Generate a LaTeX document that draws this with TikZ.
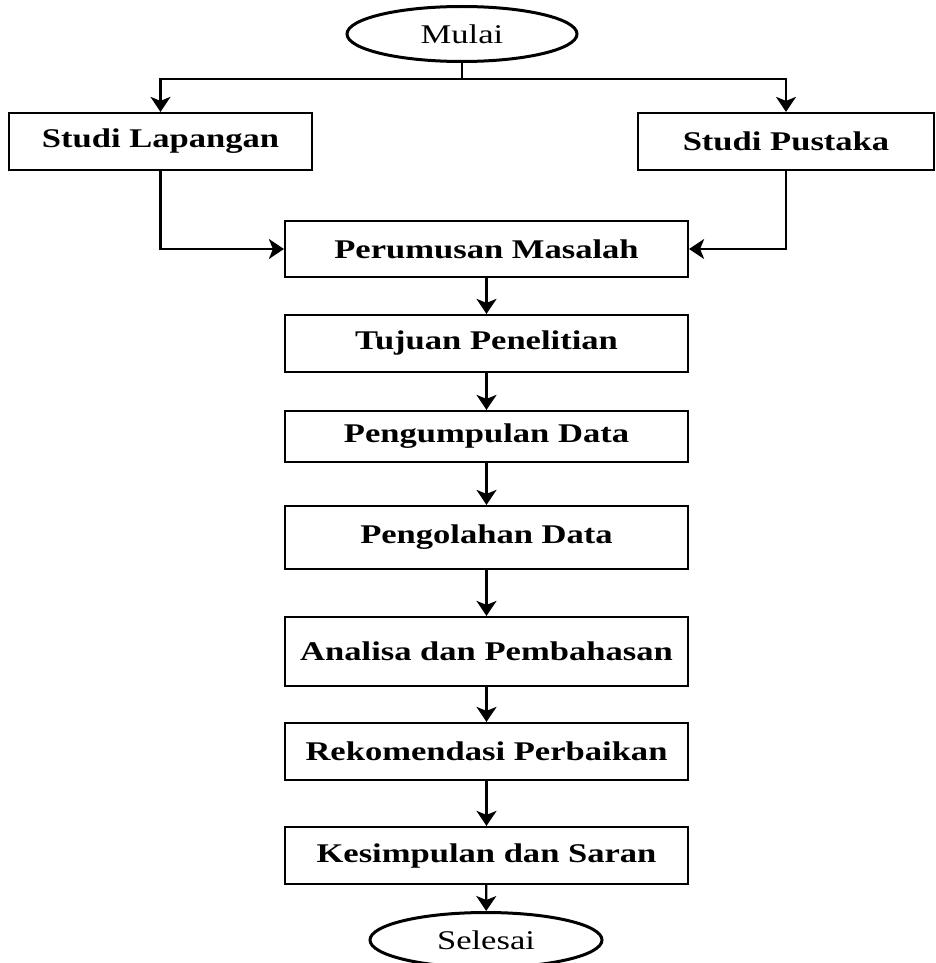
\documentclass[tikz,border=0pt]{standalone}
\usepackage{fontspec}
\setmainfont{Liberation Serif}[FakeStretch=1.28]
\usetikzlibrary{shapes.geometric,arrows.meta}

\tikzset{
  box/.style={draw, line width=2.2pt, minimum width=403pt, inner sep=0pt,
    font=\fontsize{27}{32}\selectfont\bfseries},
  terminal/.style={draw, ellipse, line width=3pt, minimum width=230pt,
    minimum height=55pt, inner sep=0pt, font=\fontsize{27}{32}\selectfont},
  arrow/.style={line width=2.2pt, -{Stealth[length=15pt,width=20pt,inset=4pt]}}
}

\begin{document}
\begin{tikzpicture}[x=1pt, y=-1pt]
  \useasboundingbox (0, 0) rectangle (935, 963);
  \node [terminal] (mulai) at (462, 34) {Mulai};
  \node [box, minimum width=303pt, minimum height=57pt] (lapangan) at (160.5, 141.5) {Studi Lapangan};
  \node [box, minimum width=296pt, minimum height=57pt] (pustaka) at (786, 141.5) {Studi Pustaka};
  \node [box, minimum height=56pt] (perumusan) at (486.5, 249) {Perumusan Masalah};
  \node [box, minimum height=57pt] (tujuan) at (486.5, 343.5) {Tujuan Penelitian};
  \node [box, minimum height=51pt] (pengumpulan) at (486.5, 436.5) {Pengumpulan Data};
  \node [box, minimum height=63pt] (pengolahan) at (486.5, 537.5) {Pengolahan Data};
  \node [box, minimum height=69pt] (analisa) at (486.5, 651.5) {Analisa dan Pembahasan};
  \node [box, minimum height=57pt] (rekomendasi) at (486.5, 751.5) {Rekomendasi Perbaikan};
  \node [box, minimum height=57pt] (kesimpulan) at (486.5, 855.5) {Kesimpulan dan Saran};
  \node [terminal, minimum width=232pt] (selesai) at (486, 940) {Selesai};

  \draw [line width=2.2pt] (mulai.south) -- ++(0, 16) coordinate (cabang);
  \draw [arrow] (cabang) -| (lapangan.north);
  \draw [arrow] (cabang) -| (pustaka.north);
  \draw [arrow] (lapangan.south) |- (perumusan.west);
  \draw [arrow] (pustaka.south) |- (perumusan.east);
  \draw [arrow] (perumusan) -- (tujuan);
  \draw [arrow] (tujuan) -- (pengumpulan);
  \draw [arrow] (pengumpulan) -- (pengolahan);
  \draw [arrow] (pengolahan) -- (analisa);
  \draw [arrow] (analisa) -- (rekomendasi);
  \draw [arrow] (rekomendasi) -- (kesimpulan);
  \draw [arrow] (kesimpulan) -- (selesai);
\end{tikzpicture}
\end{document}
